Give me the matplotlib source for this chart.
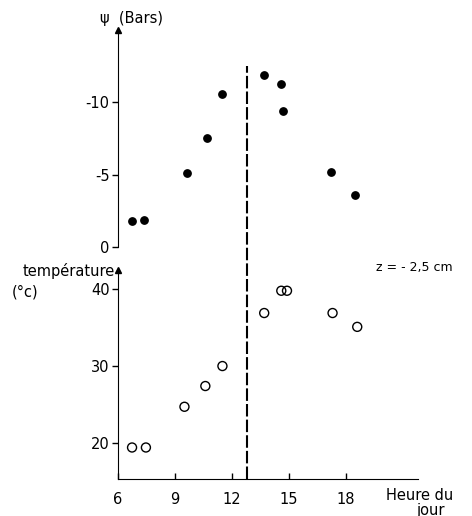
import numpy as np
import matplotlib
matplotlib.use("Agg")
import matplotlib.pyplot as plt

# potentiel hydrique (bars), points pleins
heure_psi = [6.74, 7.37, 9.63, 10.7, 11.5, 13.7, 14.6, 14.7, 17.2, 18.5]
psi = [-1.8, -1.9, -5.1, -7.5, -10.6, -11.9, -11.3, -9.4, -5.2, -3.6]

# temperature (°C), points vides
heure_temp = [6.74, 7.47, 9.5, 10.6, 11.5, 13.7, 14.6, 14.9, 17.3, 18.6]
temp = [19.4, 19.4, 24.7, 27.4, 30.0, 36.9, 39.8, 39.8, 36.9, 35.1]

x_ticks = [6, 9, 12, 15, 18]
psi_ticks = [0, -5, -10]
psi_labels = ["0", "-5", "-10"]
temp_ticks = [20, 30, 40]
midi = 12.8

W, H = 472, 516
fig = plt.figure(figsize=(W / 100, H / 100), dpi=100)
plt.rcParams['font.family'] = ['DejaVu Sans']


def box(x0, y0, x1, y1):
    # pixel box (top-left origin) -> figure fraction rect
    return [x0 / W, 1 - y1 / H, (x1 - x0) / W, (y1 - y0) / H]


xlim = (6, 21.8)

ax1 = fig.add_axes(box(118, 30, 418, 247))
ax2 = fig.add_axes(box(118, 270, 418, 479))
axd = fig.add_axes(box(118, 66, 418, 479))

for ax in (ax1, ax2, axd):
    ax.set_xlim(*xlim)
    ax.patch.set_visible(False)

# upper panel
ax1.scatter(heure_psi, psi, s=28, color='black', zorder=3)
ax1.set_ylim(0, -15)
for s in ('top', 'right', 'bottom'):
    ax1.spines[s].set_visible(False)
ax1.set_xticks([])
ax1.set_yticks(psi_ticks)
ax1.set_yticklabels(psi_labels)
ax1.tick_params(axis='y', direction='out', length=4, width=1, labelsize=10.5, pad=2)
ax1.plot(0, 1, marker='^', color='black', markersize=4, transform=ax1.transAxes, clip_on=False)

# lower panel
ax2.scatter(heure_temp, temp, s=42, facecolors='none', edgecolors='black', linewidths=1, zorder=3)
ax2.set_ylim(15.3, 42.5)
for s in ('top', 'right'):
    ax2.spines[s].set_visible(False)
ax2.set_xticks(x_ticks)
ax2.set_yticks(temp_ticks)
ax2.tick_params(axis='y', direction='out', length=4, width=1, labelsize=10.5, pad=2)
ax2.tick_params(axis='x', direction='in', length=4, width=1, labelsize=10.5, pad=9)
ax2.plot(0, 1, marker='^', color='black', markersize=4, transform=ax2.transAxes, clip_on=False)

# vertical dashed line spanning both panels
axd.axis('off')
axd.axvline(midi, color='black', linewidth=1.5, linestyle=(0, (6, 1.5)))

fig.text(132 / W, 1 - 18 / H, 'ψ  (Bars)', ha='center', va='center', fontsize=10.5)
fig.text(115 / W, 1 - 271 / H, 'température', ha='right', va='center', fontsize=10.5)
fig.text(12 / W, 1 - 292 / H, '(°c)', ha='left', va='center', fontsize=10.5)
fig.text(376 / W, 1 - 267 / H, 'z = - 2,5 cm', ha='left', va='center', fontsize=9)
fig.text(386 / W, 1 - 496 / H, 'Heure du', ha='left', va='center', fontsize=10.5)
fig.text(430 / W, 1 - 510 / H, 'jour', ha='center', va='center', fontsize=10.5)

fig.savefig('out.png', dpi=100)
